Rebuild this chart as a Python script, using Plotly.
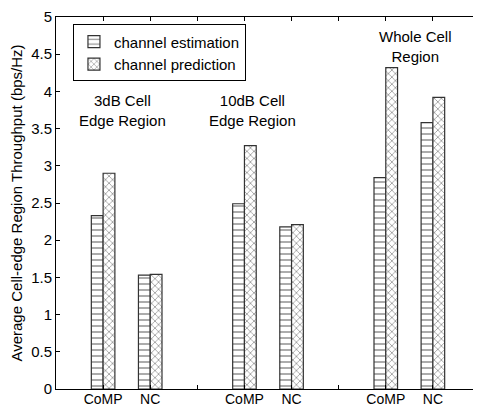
import plotly.graph_objects as go

groups = ["3dB Cell<br>Edge Region", "10dB Cell<br>Edge Region", "Whole Cell<br>Region"]
schemes = ["CoMP", "NC"]
estimation = [2.33, 1.53, 2.49, 2.18, 2.84, 3.58]
prediction = [2.90, 1.54, 3.27, 2.21, 4.32, 3.92]

FONT = "Liberation Sans, Arial, sans-serif"

pos = []
labels = []
for g in range(len(groups)):
    for i, s in enumerate(schemes):
        pos.append(g * 3 + i + 1)
        labels.append(s)

fig = go.Figure()
fig.add_trace(go.Bar(
    x=pos, y=estimation, name="channel estimation",
    width=0.25, offset=-0.25,
    marker=dict(color="white", line=dict(color="#333", width=1.2),
                pattern=dict(shape="-", fgcolor="#222", bgcolor="white", size=6, solidity=0.25)),
))
fig.add_trace(go.Bar(
    x=pos, y=prediction, name="channel prediction",
    width=0.25, offset=0,
    marker=dict(color="white", line=dict(color="#333", width=1.2),
                pattern=dict(shape="x", fgcolor="#333", bgcolor="white", size=5, solidity=0.3)),
))

ann_x = [1.42, 4.18, 7.64]
ann_y = [3.75, 3.75, 4.60]
for t, ax, ay in zip(groups, ann_x, ann_y):
    fig.add_annotation(x=ax, y=ay, text=t, showarrow=False,
                       font=dict(size=15, color="black", family=FONT), align="center")

# page body has an 8px default margin, so the figure is sized/offset to compensate
fig.update_layout(
    width=473, height=400,
    margin=dict(l=48, r=1, t=9, b=19),
    paper_bgcolor="white", plot_bgcolor="white",
    barmode="overlay",
    font=dict(family=FONT, size=14, color="black"),
    legend=dict(x=0.04, y=0.98, xanchor="left", yanchor="top",
                bordercolor="black", borderwidth=1, bgcolor="white",
                font=dict(size=15, family=FONT), tracegroupgap=0, itemwidth=30),
    showlegend=True,
)
fig.update_xaxes(range=[0, 9], tickvals=pos + [3, 6], ticktext=labels + ["", ""],
                 showline=True, linecolor="black", linewidth=1, mirror="ticks",
                 ticks="inside", ticklen=4, tickcolor="black",
                 showgrid=False, zeroline=False, automargin=False,
                 ticklabeloverflow="allow", ticklabelstandoff=-3,
                 tickfont=dict(size=14, family=FONT))
fig.update_yaxes(range=[0, 5], dtick=0.5, tick0=0,
                 showline=True, linecolor="black", linewidth=1, mirror="ticks",
                 ticks="inside", ticklen=4, tickcolor="black",
                 showgrid=False, zeroline=False, automargin=False,
                 ticklabeloverflow="allow",
                 title=dict(text="Average Cell-edge Region Throughput (bps/Hz)",
                            font=dict(size=15, family=FONT), standoff=8),
                 tickfont=dict(size=15, family=FONT))

fig.write_html("out.html")
